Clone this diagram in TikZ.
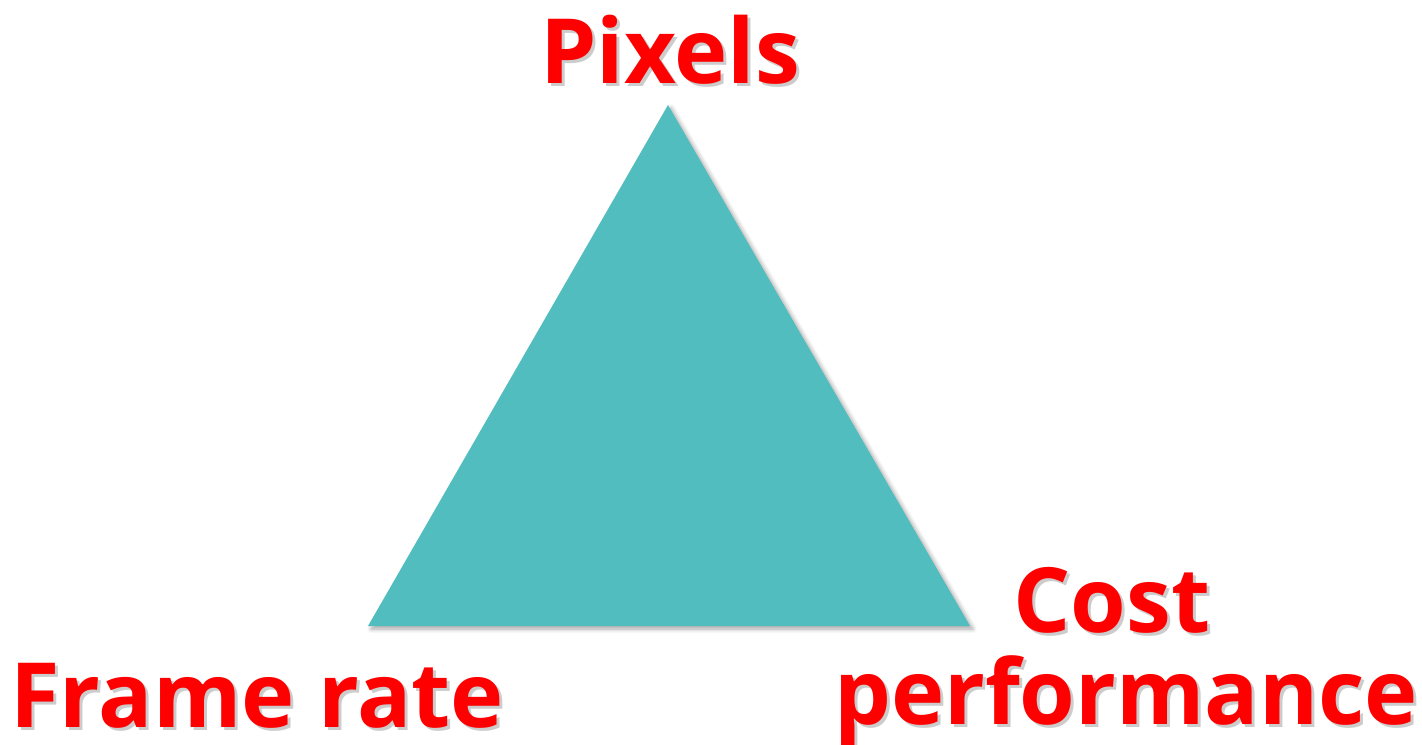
\documentclass[tikz,border=0pt]{standalone}
\usepackage{fontspec}
\setmainfont{Open Sans}
\usetikzlibrary{positioning, shadows.blur}

\definecolor{tealfill}{HTML}{52BDBE}
\definecolor{labelred}{HTML}{FF0000}

\tikzset{
  corner/.style={font=\bfseries\fontsize{45}{48}\selectfont, text=labelred, anchor=base, inner sep=0pt},
  cornershade/.style={corner, text=black, opacity=0.2}
}

\begin{document}
\begin{tikzpicture}[x=0.5pt, y=-0.5pt]
    \useasboundingbox (0,0) rectangle (1422,744);

    % the triangle
    \coordinate (top) at (668,105);
    \coordinate (left) at (368,626);
    \coordinate (right) at (970,626);
    \fill[tealfill, blur shadow={shadow xshift=1.5pt, shadow yshift=-1.5pt, shadow blur steps=6, shadow opacity=35}] (top) -- (right) -- (left) -- cycle;

    % labels with their shadows
    \node[cornershade] at (673,86) {Pixels};
    \node[corner] (pixels) at (670,83) {Pixels};

    \node[cornershade] at (260,730) {Frame rate};
    \node[corner] (framerate) at (257,727) {Frame rate};

    \node[cornershade] at (1115,635) {Cost};
    \node[corner] (cost) at (1112,632) {Cost};
    \node[cornershade] at (1129,727) {performance};
    \node[corner] (perf) at (1126,724) {performance};
\end{tikzpicture}
\end{document}
